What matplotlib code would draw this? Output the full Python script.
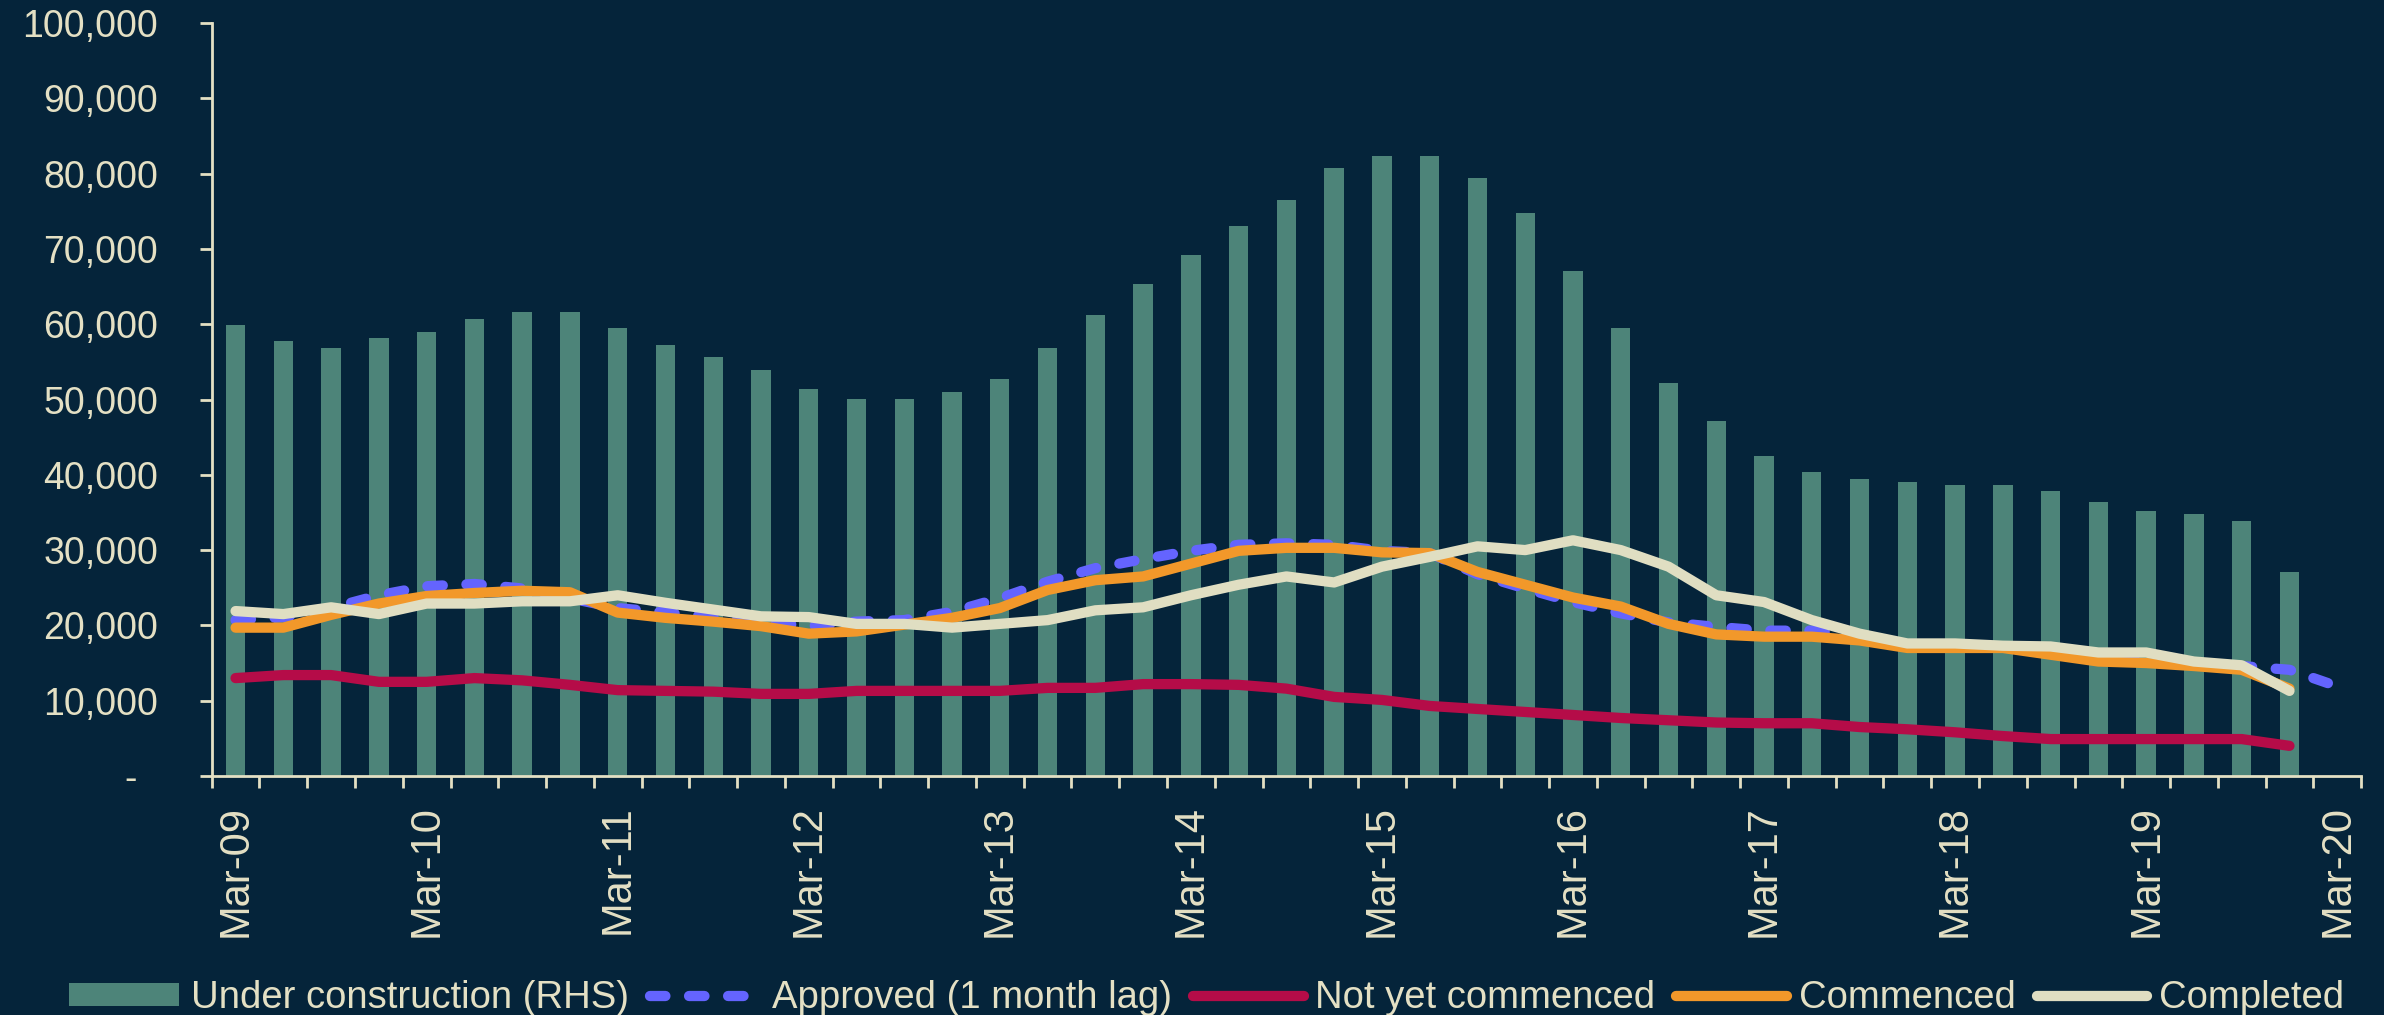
import numpy as np
import matplotlib
matplotlib.use("Agg")
import matplotlib.pyplot as plt
from matplotlib.ticker import FuncFormatter

# quarterly categories, Mar-09 .. Mar-20 (only Mar labels shown)
quarters = [f"{m}-{y:02d}" for y in range(9, 21) for m in ("Mar", "Jun", "Sep", "Dec")][:45]
tick_labels = [q if q.startswith("Mar") else "" for q in quarters]

# dwellings under construction (RHS), Mar-09 .. Dec-19
under_construction = [
    59900, 57800, 56900, 58200, 59000, 60700, 61600, 61600, 59500, 57300,
    55600, 53900, 51400, 50100, 50100, 51000, 52700, 56900, 61200, 65400,
    69200, 73000, 76500, 80700, 82400, 82400, 79400, 74800, 67100, 59500,
    52200, 47100, 42500, 40400, 39500, 39000, 38600, 38600, 37800, 36400,
    35200, 34800, 33900, 27100,
]

# approved runs one quarter further because of the 1 month lag
approved = [
    20700, 21100, 22300, 24000, 25200, 25500, 24900, 23600, 22300, 21700,
    21100, 20500, 19900, 20500, 20700, 21800, 23600, 25800, 27600, 28800,
    29900, 30700, 30900, 30700, 29900, 29600, 26800, 24900, 23100, 21600,
    20400, 19800, 19300, 19300, 18700, 17400, 17300, 17200, 16300, 15500,
    15300, 15000, 14600, 14100, 11900,
]

not_yet_commenced = [
    13000, 13400, 13400, 12500, 12500, 13000, 12700, 12100, 11400, 11300,
    11200, 10900, 10900, 11300, 11300, 11300, 11300, 11700, 11700, 12200,
    12200, 12100, 11600, 10500, 10100, 9300, 8900, 8500, 8100, 7700,
    7400, 7100, 7000, 7000, 6500, 6200, 5800, 5300, 4900, 4900,
    4900, 4900, 4900, 4000,
]

commenced = [
    19700, 19700, 21400, 22900, 23900, 24300, 24600, 24400, 21700, 21000,
    20500, 19900, 18900, 19200, 20100, 21000, 22300, 24700, 26000, 26500,
    28200, 29900, 30300, 30300, 29700, 29600, 27100, 25400, 23700, 22500,
    20200, 18800, 18500, 18500, 18000, 17000, 17000, 17000, 16100, 15200,
    15000, 14600, 14100, 11600,
]

completed = [
    21900, 21500, 22400, 21500, 22900, 22900, 23200, 23200, 24000, 23000,
    22100, 21200, 21100, 20200, 20200, 19700, 20200, 20700, 22000, 22400,
    24000, 25400, 26500, 25700, 27800, 29100, 30500, 30000, 31300, 30000,
    27800, 24000, 23100, 20700, 18900, 17600, 17600, 17300, 17200, 16400,
    16400, 15200, 14700, 11300,
]

BG = "#05243a"
TXT = "#e4e0c4"
BAR = "#4d8479"
BLUE = "#6464ff"
CRIMSON = "#b50c48"
ORANGE = "#f2982a"
CREAM = "#e0dec2"

plt.rcParams["font.family"] = ["Liberation Sans", "DejaVu Sans"]

fig = plt.figure(figsize=(23.84, 10.15), dpi=100, facecolor=BG)
ax = fig.add_axes([0.0888, 0.2355, 0.9016, 0.7418], facecolor=BG)

x_bar = np.arange(len(under_construction))
x_app = np.arange(len(approved))
x_line = np.arange(len(completed))

bars = ax.bar(x_bar, under_construction, width=0.405, color=BAR, zorder=1,
              label="Under construction (RHS)")

lw = 7.4
l_app, = ax.plot(x_app, approved, color=BLUE, lw=lw, dashes=(1.5, 2.3),
                 dash_capstyle="round", solid_joinstyle="round", zorder=2,
                 label="Approved (1 month lag)")
l_nyc, = ax.plot(x_line, not_yet_commenced, color=CRIMSON, lw=lw, solid_capstyle="round",
                 solid_joinstyle="round", zorder=3, label="Not yet commenced")
l_com, = ax.plot(x_line, commenced, color=ORANGE, lw=lw, solid_capstyle="round",
                 solid_joinstyle="round", zorder=4, label="Commenced")
l_cpl, = ax.plot(x_line, completed, color=CREAM, lw=lw, solid_capstyle="round",
                 solid_joinstyle="round", zorder=5, label="Completed")

ax.set_xlim(-0.5, len(quarters) - 0.5)
ax.set_ylim(0, 100000)

# y axis: Excel accounting style, "-" for zero
ax.set_yticks(np.arange(0, 100001, 10000))
ax.yaxis.set_major_formatter(FuncFormatter(lambda v, p: "-  " if v == 0 else f"{v:,.0f}"))
ax.tick_params(axis="y", direction="out", length=8.6, width=2, color=TXT,
               labelcolor=TXT, labelsize=27, pad=30)

# x axis: ticks on the category boundaries, labels centred in the category
ax.set_xticks(np.arange(-0.5, len(quarters), 1.0))
ax.set_xticklabels([])
ax.tick_params(axis="x", which="major", direction="out", length=8.6, width=2,
               color=TXT)
lab_pos = [i for i, t in enumerate(tick_labels) if t]
ax.set_xticks(lab_pos, minor=True)
ax.set_xticklabels([tick_labels[i] for i in lab_pos], minor=True, rotation=90)
ax.tick_params(axis="x", which="minor", length=0, labelcolor=TXT,
               labelsize=30, pad=21)

for side in ("top", "right"):
    ax.spines[side].set_visible(False)
for side in ("left", "bottom"):
    ax.spines[side].set_color(TXT)
    ax.spines[side].set_linewidth(2)

handles = [bars, l_app, l_nyc, l_com, l_cpl]
fig.legend(handles, [h.get_label() for h in handles],
           loc="lower center", bbox_to_anchor=(0.506, -0.035), ncol=5,
           frameon=False, fontsize=27.5, labelcolor=TXT, handlelength=2.9,
           handleheight=0.55, handletextpad=0.3, columnspacing=0.55)

fig.savefig("out.png", dpi=100, facecolor=BG)
